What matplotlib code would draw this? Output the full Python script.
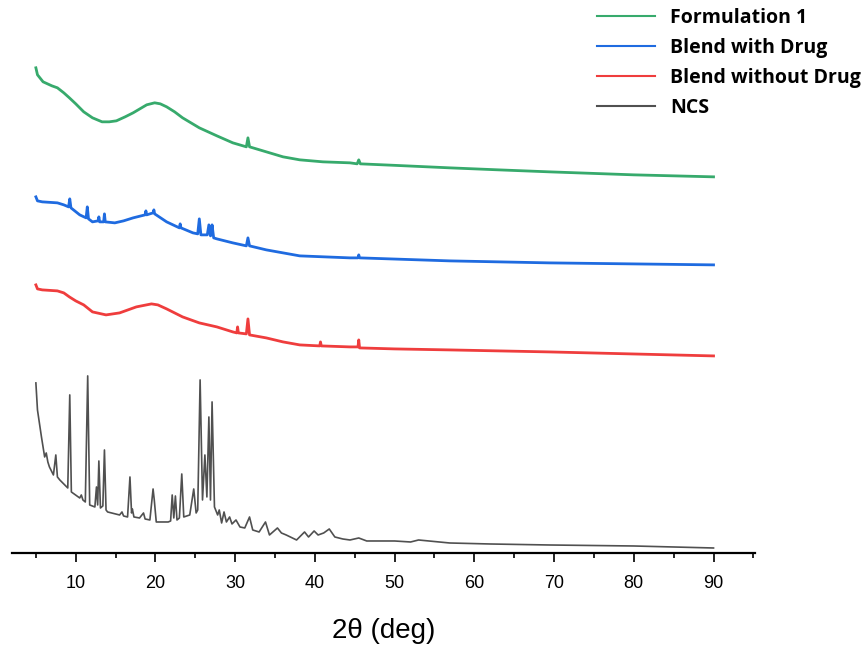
import numpy as np
import matplotlib
matplotlib.use("Agg")
import matplotlib.pyplot as plt

plt.rcParams['font.family'] = ['Liberation Sans', 'DejaVu Sans']

# 2-theta (deg) and stacked intensity (a.u., offsets already applied)
f1_2theta = [5.0, 5.2, 5.9, 7.0, 7.7, 8.5, 9.2, 10.0, 11.0, 12.1, 13.3, 14.2, 15.1, 16.2,
             17.2, 18.9, 19.9, 20.6, 21.4, 22.4, 23.4, 25.5, 27.7, 29.7, 31.4, 31.6, 31.8,
             33.9, 36.0, 38.1, 41.0, 44.4, 45.3, 45.5, 45.7, 50.0, 56.9, 63.0, 69.4, 80.0, 90.0]
f1_int = [485, 478, 471, 467, 465, 460, 455, 449, 441, 435, 431, 431, 432, 436,
          440, 448, 450, 449, 446, 441, 435, 425, 417, 410, 406, 415, 406,
          401, 396, 393, 391, 390, 389, 393, 389, 387.5, 385, 383, 381, 378, 376]

bwd_2theta = [5.0, 5.2, 5.8, 7.7, 8.5, 9.1, 9.25, 9.4, 10.5, 11.3, 11.45, 11.6, 12.1, 12.8,
              12.9, 13.0, 13.5, 13.6, 13.7, 14.9, 16.0, 17.2, 18.7, 18.8, 18.9, 19.7, 19.8,
              19.9, 21.4, 23.0, 23.1, 23.2, 24.7, 25.3, 25.5, 25.7, 26.5, 26.7, 26.9, 27.0,
              27.1, 27.3, 27.7, 29.7, 31.4, 31.6, 31.8, 33.9, 36.0, 38.1, 44.4, 45.4, 45.5,
              45.6, 56.9, 69.4, 90.0]
bwd_int = [356, 352, 351, 350, 348, 346, 354, 345, 338, 335, 346, 334, 331, 332,
           336, 331, 331, 339, 331, 330, 332, 335, 338, 342, 338, 340, 343,
           339, 331, 325, 329, 325, 320, 319, 334, 318, 318, 328, 317, 318,
           328, 315, 314, 310, 307, 315, 307, 303, 300, 297, 295, 295, 298,
           295, 292, 290, 288]

bwod_2theta = [5.0, 5.2, 5.8, 7.7, 8.5, 9.2, 10.0, 11.0, 12.1, 13.8, 15.5, 17.6, 19.5, 20.3,
               21.4, 23.4, 25.5, 27.7, 29.7, 30.2, 30.3, 30.4, 31.4, 31.6, 31.8, 33.9, 36.0,
               38.1, 40.6, 40.7, 40.8, 44.4, 45.4, 45.5, 45.6, 50.0, 56.9, 69.4, 90.0]
bwod_int = [268, 264, 263, 262, 260, 256, 252, 248, 241, 238, 240, 246, 249, 248,
            244, 236, 230, 226, 221, 220, 226, 220, 219, 234, 218, 215, 211,
            208, 207, 211, 207, 206, 206, 213, 205, 204, 203, 201, 197]

ncs_2theta = [5.0, 5.2, 5.7, 6.1, 6.3, 6.5, 6.7, 7.2, 7.5, 7.7, 8.0, 9.0, 9.25, 9.45, 10.5,
              10.7, 10.9, 11.2, 11.5, 11.75, 12.4, 12.6, 12.75, 12.9, 13.1, 13.4, 13.6, 13.8,
              14.0, 15.5, 15.8, 16.0, 16.5, 16.8, 17.0, 17.1, 17.3, 18.0, 18.5, 18.7, 19.3,
              19.7, 19.85, 20.1, 21.6, 21.9, 22.1, 22.3, 22.5, 22.7, 23.0, 23.3, 23.55, 24.3,
              24.8, 25.1, 25.3, 25.6, 25.9, 26.2, 26.45, 26.7, 26.9, 27.1, 27.4, 27.8, 28.0,
              28.3, 28.6, 28.9, 29.3, 29.6, 30.1, 30.6, 31.2, 31.8, 32.2, 33.0, 33.8, 34.3,
              35.3, 35.8, 36.4, 37.7, 38.7, 39.2, 39.9, 40.4, 41.1, 41.8, 42.5, 43.5, 44.4,
              45.5, 46.5, 48.0, 50.0, 52.0, 53.0, 56.9, 62.0, 69.4, 80.0, 90.0]
ncs_int = [170, 143, 116, 96, 100, 91, 86, 78, 98, 76, 73, 65, 158, 61, 55,
           58, 53, 51, 177, 48, 46, 66, 48, 92, 45, 47, 103, 43,
           41, 38, 41, 37, 36, 76, 40, 44, 36, 35, 40, 34, 33,
           64, 53, 31, 31, 32, 58, 35, 57, 33, 35, 79, 36, 38,
           64, 40, 43, 173, 53, 98, 56, 136, 53, 151, 46, 38, 43,
           30, 41, 31, 36, 29, 33, 26, 25, 36, 23, 21, 31, 18,
           25, 20, 18, 13, 21, 16, 22, 18, 20, 24, 16, 14, 13,
           15, 12, 12, 12, 11, 13, 10, 9, 8, 7, 5]

series_labels = ["Formulation 1", "Blend with Drug", "Blend without Drug", "NCS"]
series_colors = ["#37aa6c", "#1f6be0", "#ef3d3d", "#505050"]

fig = plt.figure(figsize=(8.67, 6.47), dpi=100)
ax = fig.add_axes([0.0138, 0.1453, 0.857, 0.770])

ax.plot(f1_2theta, f1_int, color=series_colors[0], lw=2.0, label=series_labels[0])
ax.plot(bwd_2theta, bwd_int, color=series_colors[1], lw=2.0, label=series_labels[1])
ax.plot(bwod_2theta, bwod_int, color=series_colors[2], lw=2.0, label=series_labels[2])
ax.plot(ncs_2theta, ncs_int, color=series_colors[3], lw=1.2, label=series_labels[3])

ax.set_xlim(2.0, 95.2)
ax.set_ylim(0, 498)
ax.set_xticks(np.arange(10, 91, 10))
ax.set_xticks(np.arange(5, 96, 10), minor=True)
ax.tick_params(axis='x', which='major', direction='out', length=6.5, width=1.2,
               labelsize=13, pad=9)
ax.tick_params(axis='x', which='minor', direction='out', length=3.8, width=1.2)
ax.set_yticks([])
for side in ("left", "right", "top"):
    ax.spines[side].set_visible(False)
ax.spines["bottom"].set_linewidth(1.6)
ax.set_xlabel("2θ (deg)", fontsize=20, labelpad=19)

leg = fig.legend(loc="upper left", bbox_to_anchor=(0.689, 0.988), frameon=False,
                 prop={'family': ['Open Sans', 'DejaVu Sans'], 'weight': 'bold', 'size': 14},
                 handlelength=2.95, handletextpad=0.78, labelspacing=0.52,
                 borderpad=0, borderaxespad=0)
for line in leg.get_lines():
    line.set_linewidth(1.5)

fig.savefig("out.png", dpi=100)
